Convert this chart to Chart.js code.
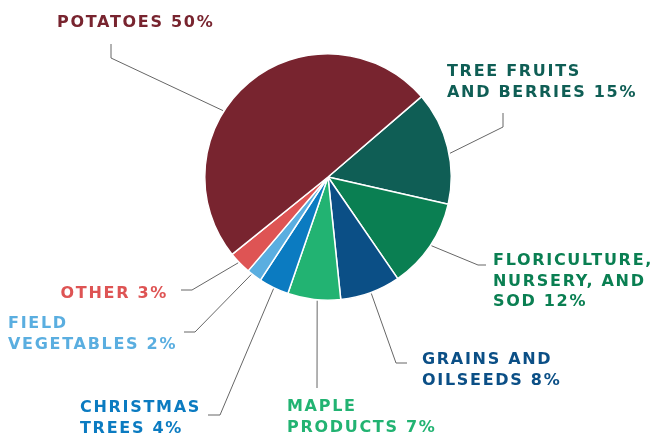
<!DOCTYPE html>
<html>
<head>
<meta charset="utf-8">
<script src="https://cdn.jsdelivr.net/npm/chart.js@4/dist/chart.umd.min.js"></script>
<style>
  body { margin: 0; background: #fff; }
  canvas { display: block; }
</style>
</head>
<body>
<canvas id="pie-chart" width="655" height="433"></canvas>
<script>
// data, clockwise from the upper right
const categories = ['Tree fruits and berries', 'Floriculture, nursery, and sod', 'Grains and oilseeds',
  'Maple products', 'Christmas trees', 'Field vegetables', 'Other', 'Potatoes'];
const shares = [15, 12, 8, 7, 4, 2, 3, 50];
const sliceColors = ['#0f5e55', '#0a7f52', '#0b4f86', '#22b372', '#0b7bc1', '#5aaee0', '#de5454', '#78242f'];
const labelLines = [
  ['TREE FRUITS', 'AND BERRIES 15%'],
  ['FLORICULTURE,', 'NURSERY, AND', 'SOD 12%'],
  ['GRAINS AND', 'OILSEEDS 8%'],
  ['MAPLE', 'PRODUCTS 7%'],
  ['CHRISTMAS', 'TREES 4%'],
  ['FIELD', 'VEGETABLES 2%'],
  ['OTHER 3%'],
  ['POTATOES 50%']
];

// where each callout sits (angle on the rim in degrees, leader points, text start)
const callouts = [
  { angle: -11, pts: [[503, 127], [503, 113]], x: 447, y: 76, align: 'left' },
  { angle: 33.6, pts: [[478, 265], [486, 265]], x: 493, y: 265, align: 'left' },
  { angle: 69.6, pts: [[396, 363], [407, 363]], x: 422, y: 364, align: 'left' },
  { angle: 95, pts: [[317, 388]], x: 287, y: 411, align: 'left' },
  { angle: 116, pts: [[220, 415], [208, 415]], x: 80, y: 412, align: 'left' },
  { angle: 128.2, pts: [[195, 332], [184, 332]], x: 8, y: 328, align: 'left' },
  { angle: 136.3, pts: [[192, 290], [181, 290]], x: 168, y: 298, align: 'right' },
  { angle: 212.3, pts: [[111, 58], [111, 44]], x: 57, y: 27, align: 'left' }
];

const calloutPlugin = {
  id: 'callouts',
  afterDraw(chart) {
    const ctx = chart.ctx;
    const arc = chart.getDatasetMeta(0).data[0];
    const cx = arc.x, cy = arc.y, r = arc.outerRadius + 1;
    ctx.save();
    ctx.strokeStyle = '#666666';
    ctx.lineWidth = 1;
    callouts.forEach((c, i) => {
      const a = c.angle * Math.PI / 180;
      ctx.beginPath();
      ctx.moveTo(cx + r * Math.cos(a), cy + r * Math.sin(a));
      c.pts.forEach(p => ctx.lineTo(p[0], p[1]));
      ctx.stroke();

      ctx.fillStyle = sliceColors[i];
      ctx.font = 'bold 16px "DejaVu Sans"';
      ctx.letterSpacing = '1.7px';
      ctx.textAlign = c.align;
      ctx.textBaseline = 'alphabetic';
      labelLines[i].forEach((line, j) => {
        ctx.fillText(line, c.x, c.y + j * 20.5);
      });
    });
    ctx.restore();
  }
};

new Chart(document.getElementById('pie-chart'), {
  type: 'pie',
  data: {
    labels: categories,
    datasets: [{
      data: shares,
      backgroundColor: sliceColors,
      borderColor: '#ffffff',
      borderWidth: 1.5,
      hoverOffset: 0
    }]
  },
  options: {
    responsive: false,
    animation: false,
    rotation: 49.3,
    layout: { padding: { left: 204, right: 203, top: 53, bottom: 132 } },
    plugins: {
      legend: { display: false },
      tooltip: { enabled: false }
    }
  },
  plugins: [calloutPlugin]
});
</script>
</body>
</html>
